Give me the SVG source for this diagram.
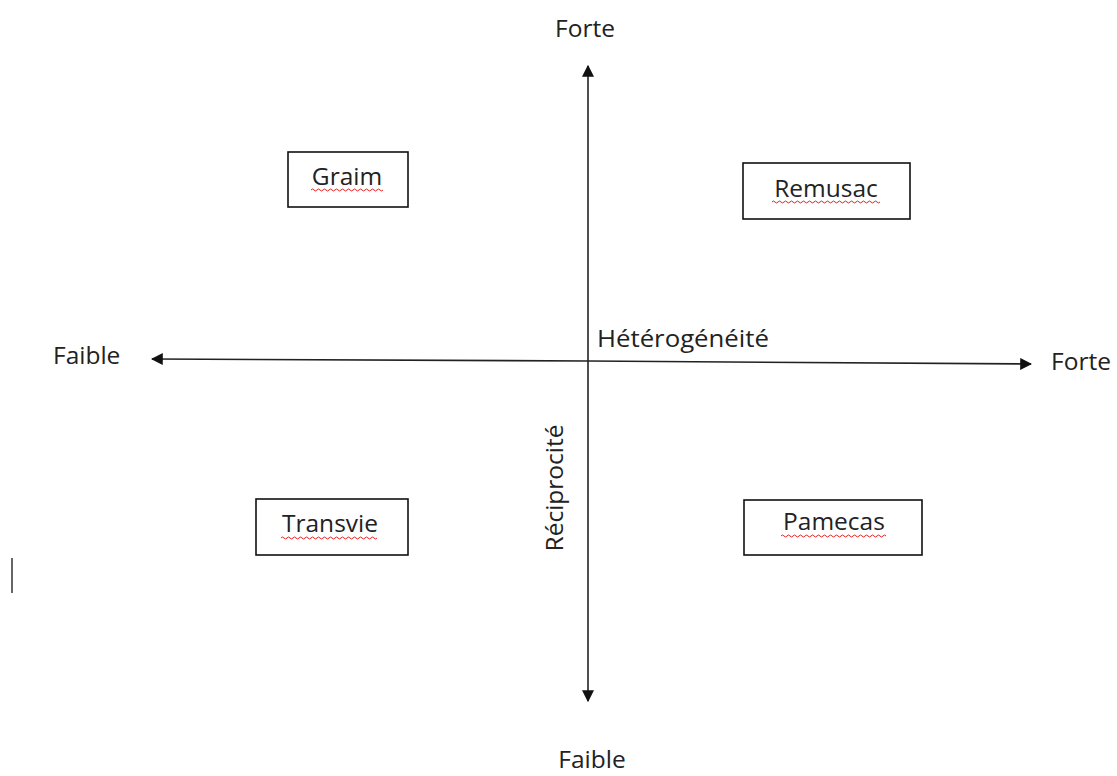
<svg xmlns="http://www.w3.org/2000/svg" width="1117" height="776" viewBox="0 0 1117 776">
<style>
.t{font-family:"Open Sans","Liberation Sans",sans-serif;font-size:24.5px;fill:#222}
.box{fill:#fff;stroke:#111;stroke-width:1.6}
.ax{stroke:#222;stroke-width:1.6;fill:none}
.sq{stroke:#e02020;stroke-width:1;fill:none}
</style>
<defs>
<marker id="ah" viewBox="0 0 10 10" refX="9" refY="5" markerWidth="12" markerHeight="12" markerUnits="userSpaceOnUse" orient="auto">
<path d="M0,0 L10,5 L0,10 z" fill="#111"/>
</marker>
</defs>
<rect width="1117" height="776" fill="#fff"/>
<g id="connectors">
<line class="ax" x1="588" y1="360" x2="588" y2="66" marker-end="url(#ah)"/>
<line class="ax" x1="588" y1="360" x2="588" y2="701" marker-end="url(#ah)"/>
<line class="ax" x1="588" y1="361" x2="152" y2="359" marker-end="url(#ah)"/>
<line class="ax" x1="588" y1="361" x2="1031" y2="364" marker-end="url(#ah)"/>
</g>
<g id="axis-labels">
<text class="t" x="585" y="37" text-anchor="middle">Forte</text>
<text class="t" x="592" y="768" text-anchor="middle">Faible</text>
<text class="t" x="53" y="364">Faible</text>
<text class="t" x="1051" y="370">Forte</text>
<text class="t" x="597" y="347" textLength="172" lengthAdjust="spacingAndGlyphs">Hétérogénéité</text>
<text class="t" transform="translate(563,488) rotate(-90)" text-anchor="middle">Réciprocité</text>
</g>
<g id="graim">
<rect class="box" x="288" y="152" width="120" height="55"/>
<text class="t" x="347" y="185" text-anchor="middle">Graim</text>
<path class="sq" d="M311,190 q1.5,-2 3,0 t3,0 t3,0 t3,0 t3,0 t3,0 t3,0 t3,0 t3,0 t3,0 t3,0 t3,0 t3,0 t3,0 t3,0 t3,0 t3,0 t3,0 t3,0 t3,0 t3,0 t3,0 t3,0 t3,0"/>
</g>
<g id="remusac">
<rect class="box" x="743" y="163" width="167" height="56"/>
<text class="t" x="826" y="197" text-anchor="middle">Remusac</text>
<path class="sq" d="M772,202 q1.5,-2 3,0 t3,0 t3,0 t3,0 t3,0 t3,0 t3,0 t3,0 t3,0 t3,0 t3,0 t3,0 t3,0 t3,0 t3,0 t3,0 t3,0 t3,0 t3,0 t3,0 t3,0 t3,0 t3,0 t3,0 t3,0 t3,0 t3,0 t3,0 t3,0 t3,0 t3,0 t3,0 t3,0 t3,0 t3,0 t3,0"/>
</g>
<g id="transvie">
<rect class="box" x="256" y="499" width="152" height="56"/>
<text class="t" x="330" y="532" text-anchor="middle">Transvie</text>
<path class="sq" d="M281,538 q1.5,-2 3,0 t3,0 t3,0 t3,0 t3,0 t3,0 t3,0 t3,0 t3,0 t3,0 t3,0 t3,0 t3,0 t3,0 t3,0 t3,0 t3,0 t3,0 t3,0 t3,0 t3,0 t3,0 t3,0 t3,0 t3,0 t3,0 t3,0 t3,0 t3,0 t3,0 t3,0 t3,0"/>
</g>
<g id="pamecas">
<rect class="box" x="744" y="500" width="178" height="55"/>
<text class="t" x="834" y="530" text-anchor="middle">Pamecas</text>
<path class="sq" d="M781,536 q1.5,-2 3,0 t3,0 t3,0 t3,0 t3,0 t3,0 t3,0 t3,0 t3,0 t3,0 t3,0 t3,0 t3,0 t3,0 t3,0 t3,0 t3,0 t3,0 t3,0 t3,0 t3,0 t3,0 t3,0 t3,0 t3,0 t3,0 t3,0 t3,0 t3,0 t3,0 t3,0 t3,0 t3,0 t3,0 t3,0"/>
</g>
<line x1="12" y1="558" x2="12" y2="593" stroke="#333" stroke-width="1.5"/>
</svg>
